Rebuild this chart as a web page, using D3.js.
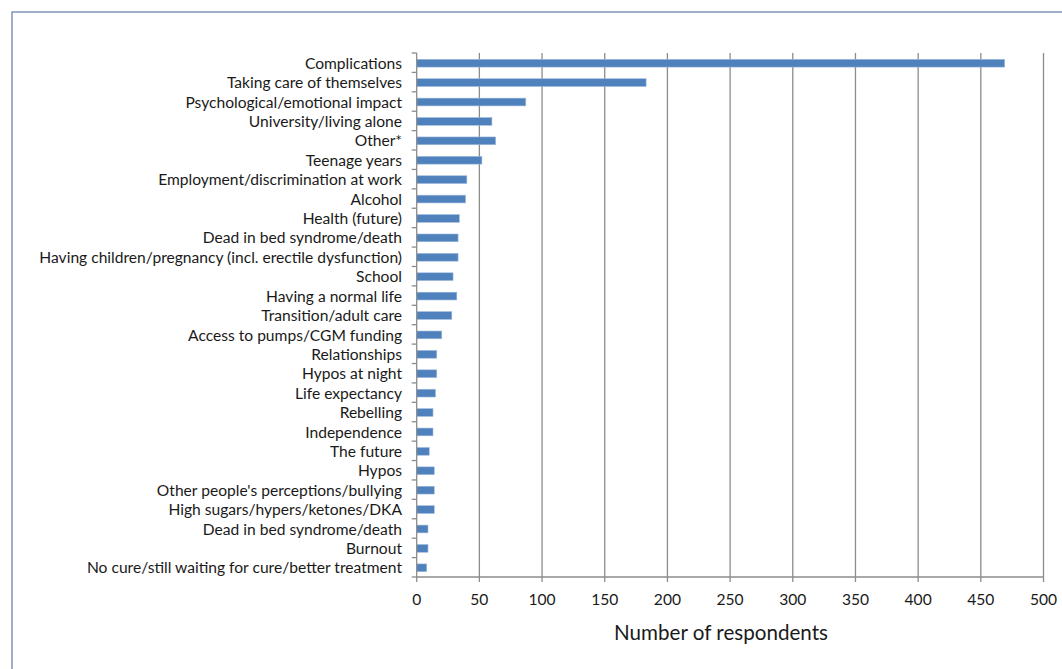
<!DOCTYPE html>
<html>
<head>
<meta charset="utf-8">
<script src="https://cdn.jsdelivr.net/npm/d3@7"></script>
<style>
  html, body { margin: 0; padding: 0; background: #fff; }
  svg { display: block; }
  text { font-family: Lato, "Open Sans", sans-serif; fill: #1a1a1a; }
</style>
</head>
<body>
<script>
const categories = [
  "Complications",
  "Taking care of themselves",
  "Psychological/emotional impact",
  "University/living alone",
  "Other*",
  "Teenage years",
  "Employment/discrimination at work",
  "Alcohol",
  "Health (future)",
  "Dead in bed syndrome/death",
  "Having children/pregnancy (incl. erectile dysfunction)",
  "School",
  "Having a normal life",
  "Transition/adult care",
  "Access to pumps/CGM funding",
  "Relationships",
  "Hypos at night",
  "Life expectancy",
  "Rebelling",
  "Independence",
  "The future",
  "Hypos",
  "Other people's perceptions/bullying",
  "High sugars/hypers/ketones/DKA",
  "Dead in bed syndrome/death ",
  "Burnout",
  "No cure/still waiting for cure/better treatment"
];
const values = [469, 183, 87, 60, 63, 52, 40, 39, 34, 33, 33, 29, 32, 28, 20, 16, 16, 15, 13, 13, 10, 14, 14, 14, 9, 9, 8];
const xTicks = [0, 50, 100, 150, 200, 250, 300, 350, 400, 450, 500];
const xTitle = "Number of respondents";

(function () {
const W = 1062, H = 669;
const svg = d3.select("body").append("svg").attr("width", W).attr("height", H);
svg.append("rect").attr("width", W).attr("height", H).attr("fill", "#fff");

// frame
svg.append("rect").attr("x", 12).attr("y", 12).attr("width", W + 20).attr("height", H + 20)
  .attr("fill", "none").attr("stroke", "#7f97b8").attr("stroke-width", 1.5);

const pLeft = 416.7, pRight = 1043.5, pTop = 53, pBottom = 577;
const x = d3.scaleLinear().domain([0, 500]).range([pLeft, pRight]);
const y = d3.scaleBand().domain(categories).range([pTop, pBottom]).paddingInner(0.6).paddingOuter(0.3);
const yStep = (pBottom - pTop) / categories.length;

// gridlines
svg.append("g").selectAll("line").data(xTicks.slice(1)).join("line")
  .attr("x1", d => x(d)).attr("x2", d => x(d)).attr("y1", pTop).attr("y2", pBottom)
  .attr("stroke", "#8c8c8c").attr("stroke-width", 1.3);

// bars
svg.append("g").selectAll("rect").data(values).join("rect")
  .attr("x", x(0)).attr("y", (d, i) => y(categories[i]) + 0.5)
  .attr("width", d => x(d) - x(0)).attr("height", y.bandwidth())
  .attr("fill", "#4f81bd").attr("stroke", "#9fb9dc").attr("stroke-width", 0.6);

// y axis
const yAxisG = svg.append("g");
yAxisG.append("line").attr("x1", pLeft).attr("x2", pLeft).attr("y1", pTop).attr("y2", pBottom)
  .attr("stroke", "#8c8c8c").attr("stroke-width", 1.3);
yAxisG.selectAll("line.tk").data(d3.range(categories.length + 1)).join("line").attr("class", "tk")
  .attr("x1", pLeft - 5).attr("x2", pLeft).attr("y1", i => pTop + i * yStep).attr("y2", i => pTop + i * yStep)
  .attr("stroke", "#8c8c8c").attr("stroke-width", 1.3);
yAxisG.selectAll("text").data(categories).join("text")
  .attr("x", 402).attr("y", d => y(d) + y.bandwidth() / 2 + 0.5)
  .attr("dy", "0.36em").attr("text-anchor", "end")
  .style("font-size", "15.6px").text(d => d);

// x axis
const xAxisG = svg.append("g").attr("transform", `translate(0,${pBottom})`);
xAxisG.append("line").attr("x1", pLeft).attr("x2", pRight).attr("stroke", "#8c8c8c").attr("stroke-width", 1.3);
xAxisG.selectAll("line.tk").data(xTicks).join("line").attr("class", "tk")
  .attr("x1", d => x(d)).attr("x2", d => x(d)).attr("y1", 0).attr("y2", 5)
  .attr("stroke", "#8c8c8c").attr("stroke-width", 1.3);
xAxisG.selectAll("text").data(xTicks).join("text")
  .attr("x", d => x(d)).attr("y", 28).attr("text-anchor", "middle")
  .style("font-size", "15.6px").text(d => d);

svg.append("text").attr("x", 721).attr("y", 640).attr("text-anchor", "middle")
  .style("font-size", "20.6px").text(xTitle);
})();
</script>
</body>
</html>
